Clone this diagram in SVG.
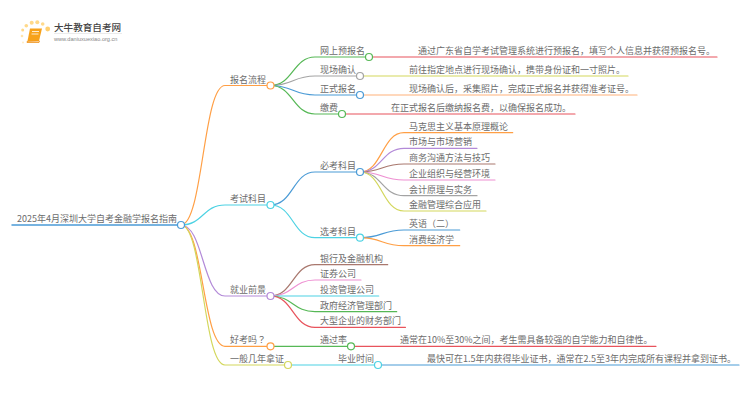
<svg xmlns="http://www.w3.org/2000/svg" width="750" height="410" viewBox="0 0 750 410">
<style>
text{font-family:"Noto Sans CJK SC","Liberation Sans",sans-serif;font-size:9px;fill:#6c6c6c}
.c{fill:none;stroke-width:1.2;stroke-linecap:round}
.n{fill:#fff;stroke-width:1.2}
.or{stroke:#ff9f45}.gr{stroke:#56b856}.gy{stroke:#a3a3a3}.bl{stroke:#4b9bd6}.cy{stroke:#4dd2e3}.pu{stroke:#b38ad8}.br{stroke:#a9786e}.pk{stroke:#ee90d2}.ye{stroke:#d3d75c}.re{stroke:#e8535c}.lo{stroke:#ffb27a}
</style>
<g id="logo">
<g fill="#ffd98a"><circle cx="47.700" cy="29" r="2.400" fill="#ffcf70"/><circle cx="42.700" cy="24" r="1.800"/><circle cx="37.300" cy="22.300" r="2"/><circle cx="31.700" cy="22.700" r="2"/><circle cx="26.300" cy="25.700" r="1.800"/><circle cx="22.700" cy="30" r="1.500"/><circle cx="22" cy="36" r="1.300" opacity=".7"/><circle cx="23" cy="42.500" r="1" opacity=".5"/></g>
<path d="M30 28.500H42L39 41H27.500Z" fill="#f7a21b"/><path d="M27 41.500V42.500H39L39.500 41Z" fill="#fff" stroke="#ef8f12" stroke-width=".8"/><path d="M32 31.500H39M31.500 34H38.500" stroke="#fff" stroke-width=".8"/>
<text x="54" y="31" style="font-size:9.600px;fill:#444;font-weight:500">大牛教育自考网</text>
<path d="M54 33.500H122" stroke="#ddd" stroke-width=".6"/>
<text x="54" y="41" style="font-size:5.600px;fill:#888;font-family:'Liberation Sans',sans-serif">www.daniuxuexiao.org.cn</text>
</g>
<g id="connectors">
<path class="c bl" d="M12 225H181" style="stroke-width:1.500"/>
<path class="c or" d="M181 225C203 225 203 85.500 225 85.500H270.500"/>
<path class="c cy" d="M181 225C203 225 203 205 225 205H270.500"/>
<path class="c pu" d="M181 225C203 225 203 296 225 296H270.500"/>
<path class="c or" d="M181 225C203 225 203 346.300 225 346.300H270.500"/>
<path class="c ye" d="M181 225C203 225 203 365 225 365H288"/>
<path class="c gr" d="M270.500 85.500C293 85.500 293 57 315 57H369"/>
<path class="c gy" d="M270.500 85.500C293 85.500 293 76 315 76H360"/>
<path class="c bl" d="M270.500 85.500C293 85.500 293 95 315 95H360"/>
<path class="c gr" d="M270.500 85.500C293 85.500 293 114 315 114H342"/>
<path class="c re" d="M369 57H717"/>
<path class="c ye" d="M360 76H628"/>
<path class="c lo" d="M360 95H637"/>
<path class="c re" d="M342 114H575"/>
<path class="c bl" d="M270.500 205C293 205 293 172 315 172H360"/>
<path class="c cy" d="M270.500 205C293 205 293 237.700 315 237.700H360"/>
<path class="c or" d="M360 172C382 172 382 132.700 404 132.700H512.700"/>
<path class="c pu" d="M360 172C382 172 382 148.300 404 148.300H477"/>
<path class="c br" d="M360 172C382 172 382 164 404 164H495"/>
<path class="c pk" d="M360 172C382 172 382 180 404 180H495"/>
<path class="c gy" d="M360 172C382 172 382 195.700 404 195.700H477"/>
<path class="c ye" d="M360 172C382 172 382 211 404 211H486"/>
<path class="c bl" d="M360 237.700C382 237.700 382 230 404 230H459.700"/>
<path class="c or" d="M360 237.700C382 237.700 382 245.700 404 245.700H459.700"/>
<path class="c br" d="M270.500 296C293 296 293 264.700 315 264.700H387.700"/>
<path class="c pk" d="M270.500 296C293 296 293 280 315 280H361"/>
<path class="c cy" d="M270.500 296H378.700"/>
<path class="c gr" d="M270.500 296C293 296 293 311.700 315 311.700H396.700"/>
<path class="c re" d="M270.500 296C293 296 293 327.300 315 327.300H405.500"/>
<path class="c gr" d="M270.500 346.300H351"/>
<path class="c re" d="M351 346.300H656"/>
<path class="c cy" d="M288 365H378"/>
<path class="c bl" d="M378 365H739"/>
</g>
<g id="root"><text x="17" y="222">2025年4月深圳大学自考金融学报名指南</text><circle class="n bl" cx="181" cy="225" r="3.500"/></g>
<g id="n1"><text x="230" y="82.500">报名流程</text><circle class="n or" cx="270.500" cy="85.500" r="3.500"/></g>
<g id="n2"><text x="230" y="202">考试科目</text><circle class="n cy" cx="270.500" cy="205" r="3.500"/></g>
<g id="n3"><text x="230" y="293">就业前景</text><circle class="n pu" cx="270.500" cy="296" r="3.500"/></g>
<g id="n4"><text x="230" y="343.300">好考吗<tspan style="font-family:'Noto Sans CJK JP',sans-serif">？</tspan></text><circle class="n or" cx="270.500" cy="346.300" r="3.500"/></g>
<g id="n5"><text x="230" y="362">一般几年拿证</text><circle class="n ye" cx="288" cy="365" r="3.500"/></g>
<g id="n11"><text x="320" y="54">网上预报名</text><circle class="n gr" cx="369" cy="57" r="3.500"/></g>
<g id="n12"><text x="320" y="73">现场确认</text><circle class="n gy" cx="360" cy="76" r="3.500"/></g>
<g id="n13"><text x="320" y="92">正式报名</text><circle class="n bl" cx="360" cy="95" r="3.500"/></g>
<g id="n14"><text x="320" y="111">缴费</text><circle class="n gr" cx="342" cy="114" r="3.500"/></g>
<g id="l11"><text x="418" y="54">通过广东省自学考试管理系统进行预报名，填写个人信息并获得预报名号。</text></g>
<g id="l12"><text x="409" y="73">前往指定地点进行现场确认，携带身份证和一寸照片。</text></g>
<g id="l13"><text x="409" y="92">现场确认后，采集照片，完成正式报名并获得准考证号。</text></g>
<g id="l14"><text x="391" y="111">在正式报名后缴纳报名费，以确保报名成功。</text></g>
<g id="n21"><text x="320" y="169">必考科目</text><circle class="n bl" cx="360" cy="172" r="3.500"/></g>
<g id="n22"><text x="320" y="234.700">选考科目</text><circle class="n cy" cx="360" cy="237.700" r="3.500"/></g>
<g id="s1"><text x="409" y="129.700">马克思主义基本原理概论</text></g>
<g id="s2"><text x="409" y="145.300">市场与市场营销</text></g>
<g id="s3"><text x="409" y="161">商务沟通方法与技巧</text></g>
<g id="s4"><text x="409" y="177">企业组织与经营环境</text></g>
<g id="s5"><text x="409" y="192.700">会计原理与实务</text></g>
<g id="s6"><text x="409" y="208">金融管理综合应用</text></g>
<g id="s7"><text x="409" y="227">英语（二）</text></g>
<g id="s8"><text x="409" y="242.700">消费经济学</text></g>
<g id="j1"><text x="320" y="261.700">银行及金融机构</text></g>
<g id="j2"><text x="320" y="277">证券公司</text></g>
<g id="j3"><text x="320" y="293">投资管理公司</text></g>
<g id="j4"><text x="320" y="308.700">政府经济管理部门</text></g>
<g id="j5"><text x="320" y="324.300">大型企业的财务部门</text></g>
<g id="n41"><text x="320" y="343.300">通过率</text><circle class="n gr" cx="351" cy="346.300" r="3.500"/></g>
<g id="l41"><text x="400" y="343.300">通常在10%至30%之间，考生需具备较强的自学能力和自律性。</text></g>
<g id="n51"><text x="338" y="362">毕业时间</text><circle class="n cy" cx="378" cy="365" r="3.500"/></g>
<g id="l51"><text x="427" y="362">最快可在1.5年内获得毕业证书，通常在2.5至3年内完成所有课程并拿到证书。</text></g>
</svg>
